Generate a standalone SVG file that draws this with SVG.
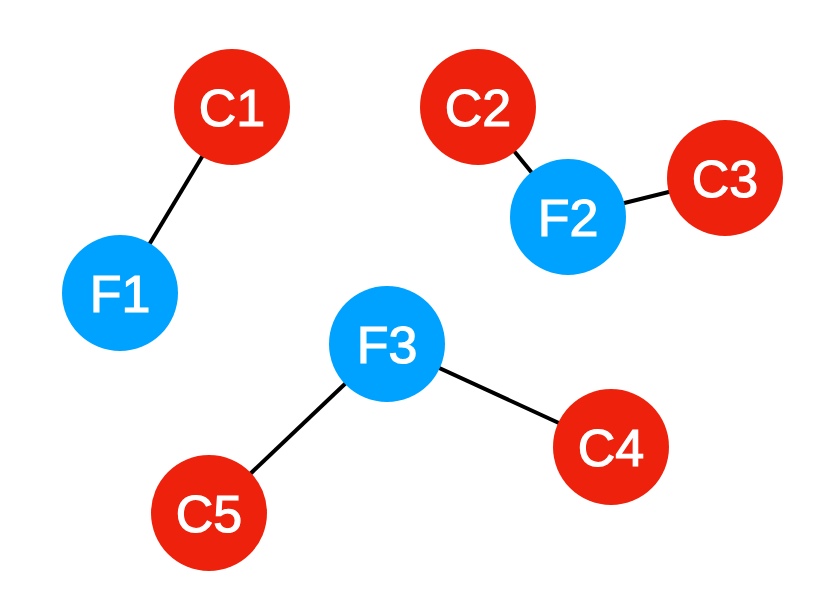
<svg xmlns="http://www.w3.org/2000/svg" width="833" height="611" viewBox="0 0 833 611">
<style>
.edge{stroke:#000;stroke-width:4;fill:none}
.c{fill:#EE220C}
.f{fill:#00A2FF}
.lbl{fill:#fff;stroke:#fff;stroke-width:1.2;font-family:"Liberation Sans",Arial,sans-serif;font-size:52px;text-anchor:middle}
</style>
<rect width="833" height="611" fill="#fff"/>
<g id="connectors">
<line class="edge" x1="232" y1="107" x2="120" y2="293"/>
<line class="edge" x1="478" y1="107" x2="568" y2="217"/>
<line class="edge" x1="568" y1="217" x2="725" y2="178"/>
<line class="edge" x1="387" y1="344" x2="611" y2="447"/>
<line class="edge" x1="387" y1="344" x2="209" y2="513"/>
</g>
<g id="C1"><circle class="c" cx="232" cy="107" r="58"/><text class="lbl" x="232" y="126">C1</text></g>
<g id="C2"><circle class="c" cx="478" cy="107" r="58"/><text class="lbl" x="478" y="126">C2</text></g>
<g id="C3"><circle class="c" cx="725" cy="178" r="58"/><text class="lbl" x="725" y="197">C3</text></g>
<g id="F2"><circle class="f" cx="568" cy="217" r="58"/><text class="lbl" x="568" y="236">F2</text></g>
<g id="F1"><circle class="f" cx="120" cy="293" r="58"/><text class="lbl" x="120" y="312">F1</text></g>
<g id="F3"><circle class="f" cx="387" cy="344" r="58"/><text class="lbl" x="387" y="363">F3</text></g>
<g id="C4"><circle class="c" cx="611" cy="447" r="58"/><text class="lbl" x="611" y="466">C4</text></g>
<g id="C5"><circle class="c" cx="209" cy="513" r="58"/><text class="lbl" x="209" y="532">C5</text></g>
</svg>
